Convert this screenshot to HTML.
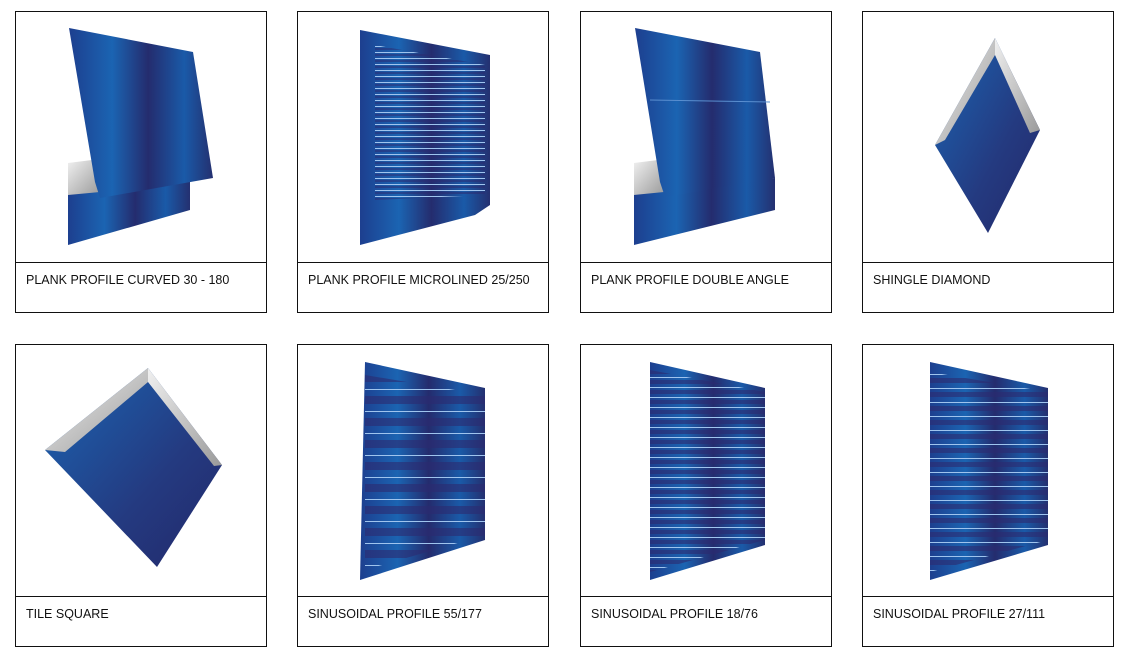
<!DOCTYPE html>
<html><head><meta charset="utf-8"><style>
html,body{margin:0;padding:0;background:#fff;}
svg{display:block}
text{font-family:"Liberation Sans",sans-serif;font-size:12.5px;fill:#111;}
</style></head><body>
<svg width="1137" height="660" xmlns="http://www.w3.org/2000/svg">
<defs>
<linearGradient id="g" x1="0" y1="0" x2="1" y2="0">
<stop offset="0" stop-color="#1d3f8f"/><stop offset="0.3" stop-color="#1b64b2"/><stop offset="0.55" stop-color="#242c6e"/><stop offset="0.8" stop-color="#1a5aa8"/><stop offset="1" stop-color="#243070"/></linearGradient>
<linearGradient id="gd" x1="0" y1="0" x2="1" y2="1">
<stop offset="0" stop-color="#1b66b4"/><stop offset="0.6" stop-color="#243a80"/><stop offset="1" stop-color="#22286a"/></linearGradient>
<linearGradient id="gr" x1="0" y1="0" x2="1" y2="1"><stop offset="0" stop-color="#f0f0f0"/><stop offset="1" stop-color="#9a9a9a"/></linearGradient>
<pattern id="w1" width="10" height="22" patternUnits="userSpaceOnUse"><rect width="10" height="22" fill="none"/><rect y="0" width="10" height="8" fill="#2b2a70" opacity="0.6"/><rect y="15" width="10" height="1" fill="#9fc4ee"/></pattern>
<pattern id="w2" width="10" height="10" patternUnits="userSpaceOnUse"><rect y="0" width="10" height="4" fill="#2b2a70" opacity="0.6"/><rect y="7" width="10" height="1" fill="#9fc4ee"/></pattern>
<pattern id="w3" width="10" height="14" patternUnits="userSpaceOnUse"><rect y="0" width="10" height="5" fill="#2b2a70" opacity="0.6"/><rect y="10" width="10" height="1" fill="#9fc4ee"/></pattern>
<pattern id="w4" width="10" height="6" patternUnits="userSpaceOnUse"><rect y="0" width="10" height="2" fill="#2b2a70" opacity="0.5"/><rect y="4" width="10" height="1" fill="#9fc4ee"/></pattern>
</defs>
<g fill="none" stroke="#111" stroke-width="1">
<rect x="15.5" y="11.5" width="251" height="301"/><line x1="15" y1="262.5" x2="267" y2="262.5"/>
<rect x="297.5" y="11.5" width="251" height="301"/><line x1="297" y1="262.5" x2="549" y2="262.5"/>
<rect x="580.5" y="11.5" width="251" height="301"/><line x1="580" y1="262.5" x2="832" y2="262.5"/>
<rect x="862.5" y="11.5" width="251" height="301"/><line x1="862" y1="262.5" x2="1114" y2="262.5"/>
<rect x="15.5" y="344.5" width="251" height="302"/><line x1="15" y1="596.5" x2="267" y2="596.5"/>
<rect x="297.5" y="344.5" width="251" height="302"/><line x1="297" y1="596.5" x2="549" y2="596.5"/>
<rect x="580.5" y="344.5" width="251" height="302"/><line x1="580" y1="596.5" x2="832" y2="596.5"/>
<rect x="862.5" y="344.5" width="251" height="302"/><line x1="862" y1="596.5" x2="1114" y2="596.5"/>
</g>
<text x="26" y="284">PLANK PROFILE CURVED 30 - 180</text>
<text x="308" y="284">PLANK PROFILE MICROLINED 25/250</text>
<text x="591" y="284">PLANK PROFILE DOUBLE ANGLE</text>
<text x="873" y="284">SHINGLE DIAMOND</text>
<text x="26" y="618">TILE SQUARE</text>
<text x="308" y="618">SINUSOIDAL PROFILE 55/177</text>
<text x="591" y="618">SINUSOIDAL PROFILE 18/76</text>
<text x="873" y="618">SINUSOIDAL PROFILE 27/111</text>
<!-- card1 -->
<polygon points="68,190 190,178 190,210 68,245" fill="url(#g)"/>
<polygon points="68,163 92,160 100,192 68,195" fill="url(#gr)"/>
<polygon points="69,28 193,52 213,178 100,198 95,182" fill="url(#g)"/>
<!-- card2 -->
<polygon points="360,30 490,55 490,205 475,215 360,245" fill="url(#g)"/>
<polygon points="375,45 485,65 485,195 375,200" fill="url(#w4)"/>
<!-- card3 -->
<polygon points="634,190 775,178 775,210 634,245" fill="url(#g)"/>
<polygon points="634,163 658,160 664,192 634,195" fill="url(#gr)"/>
<polygon points="635,28 760,52 775,178 665,197 660,182" fill="url(#g)"/>
<line x1="650" y1="100" x2="770" y2="102" stroke="#5a8fd0" stroke-width="1"/>
<!-- card4 -->
<polygon points="995,38 1040,130 988,233 935,145" fill="url(#gd)"/>
<polygon points="995,38 1040,130 1030,133 995,55" fill="url(#gr)"/>
<polygon points="995,38 935,145 945,140 995,55" fill="url(#gr)"/>
<!-- card5 -->
<polygon points="148,368 222,465 157,567 45,450" fill="url(#gd)"/>
<polygon points="148,368 222,465 214,466 148,382" fill="url(#gr)"/>
<polygon points="148,368 45,450 65,452 148,382" fill="url(#gr)"/>
<!-- card6 -->
<polygon points="365,362 485,388 485,540 360,580" fill="url(#g)"/>
<polygon points="365,375 485,395 485,535 365,570" fill="url(#w1)"/>
<!-- card7 -->
<polygon points="650,362 765,388 765,545 650,580" fill="url(#g)"/>
<polygon points="650,370 765,392 765,540 650,572" fill="url(#w2)"/>
<!-- card8 -->
<polygon points="930,362 1048,388 1048,545 930,580" fill="url(#g)"/>
<polygon points="930,372 1048,392 1048,540 930,572" fill="url(#w3)"/>
</svg>
</body></html>
